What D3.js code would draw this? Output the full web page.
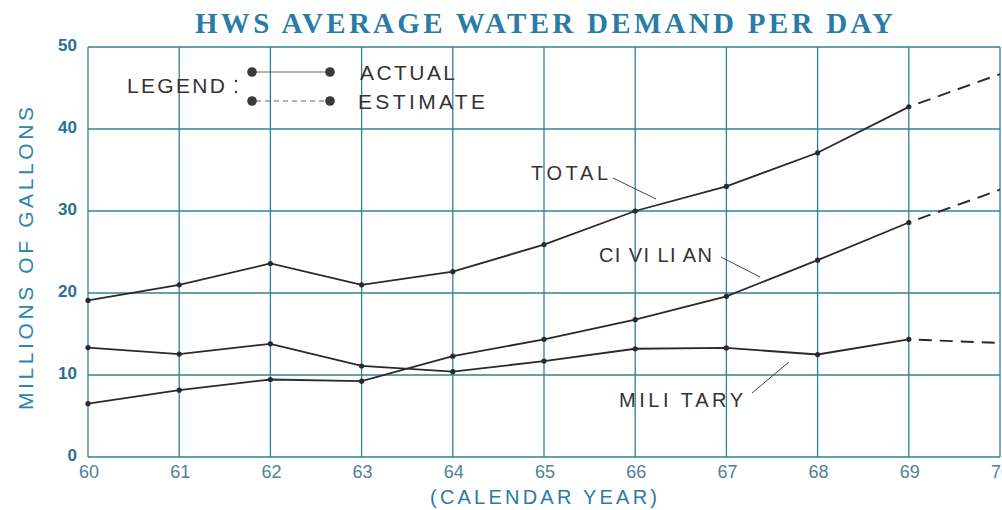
<html>
  <head>
    <meta charset="utf-8">
    <script src="https://d3js.org/d3.v7.min.js"></script>
    <style type="text/css">
      body { margin: 0; background: #fff; }
      svg { display: block; }
      .grid line { stroke: #2f8096; stroke-width: 1.3; }
      .ytick { font-family: "Liberation Sans", Arial, sans-serif; font-weight: bold; font-size: 17px; fill: #2a6f98; }
      .xtick { font-family: "Liberation Sans", Arial, sans-serif; font-size: 18px; fill: #4f8198; }
      .lbl { font-family: "Liberation Sans", Arial, sans-serif; fill: #333; }
    </style>
  </head>
  <body>
    <svg width="1002" height="510"></svg>
    <script>
      // calendar years (19xx) and demand in millions of gallons per day
      var years = [60, 61, 62, 63, 64, 65, 66, 67, 68, 69];
      var total = [19.1, 21.0, 23.6, 21.0, 22.6, 25.9, 30.0, 33.0, 37.1, 42.7];
      var civilian = [6.5, 8.15, 9.45, 9.25, 12.3, 14.35, 16.75, 19.6, 24.0, 28.6];
      var military = [13.35, 12.55, 13.8, 11.1, 10.4, 11.7, 13.2, 13.3, 12.5, 14.35];

      // estimates (69 -> 70)
      var estYears = [69, 70];
      var totalEst = [42.7, 46.7];
      var civilianEst = [28.6, 32.6];
      var militaryEst = [14.35, 13.9];

      var xTicks = [60, 61, 62, 63, 64, 65, 66, 67, 68, 69, 70];
      var yTicks = [0, 10, 20, 30, 40, 50];

      var svg = d3.select("svg");
      var x = d3.scaleLinear().domain([60, 70]).range([88, 1000]);
      var y = d3.scaleLinear().domain([0, 50]).range([457, 47]);

      // grid
      var grid = svg.append("g").attr("class", "grid");
      grid.selectAll(".v").data(xTicks).enter().append("line")
        .attr("x1", function(d) { return x(d); }).attr("x2", function(d) { return x(d); })
        .attr("y1", y(0)).attr("y2", y(50));
      grid.selectAll(".h").data(yTicks).enter().append("line")
        .attr("y1", function(d) { return y(d); }).attr("y2", function(d) { return y(d); })
        .attr("x1", x(60)).attr("x2", x(70));

      // tick labels
      svg.selectAll(".ytick").data(yTicks).enter().append("text")
        .attr("class", "ytick")
        .attr("x", 77).attr("y", function(d) { return y(d) + 4; })
        .attr("text-anchor", "end")
        .text(function(d) { return d; });
      svg.selectAll(".xtick").data(xTicks).enter().append("text")
        .attr("class", "xtick")
        .attr("x", function(d) { return x(d) + 1; }).attr("y", 478)
        .attr("text-anchor", "middle")
        .text(function(d) { return d; });

      // titles
      svg.append("text")
        .attr("x", 195).attr("y", 33)
        .attr("textLength", 698).attr("lengthAdjust", "spacing")
        .style("font-family", "'Liberation Serif', serif").style("font-weight", "bold")
        .style("font-size", "29px").style("fill", "#2a7ba6")
        .text("HWS  AVERAGE  WATER  DEMAND  PER  DAY");
      svg.append("text")
        .attr("x", 430).attr("y", 504)
        .attr("textLength", 227).attr("lengthAdjust", "spacing")
        .style("font-family", "'Liberation Sans', sans-serif")
        .style("font-size", "20px").style("fill", "#2b7aa5")
        .text("(CALENDAR  YEAR)");
      svg.append("text")
        .attr("transform", "translate(33,410) rotate(-90)")
        .attr("textLength", 303).attr("lengthAdjust", "spacing")
        .style("font-family", "'Liberation Sans', sans-serif")
        .style("font-size", "21px").style("fill", "#2f86ad")
        .text("MILLIONS  OF  GALLONS");

      // series
      var line = d3.line()
        .x(function(d) { return x(d[0]); })
        .y(function(d) { return y(d[1]); });

      [total, civilian, military].forEach(function(vals) {
        var pts = d3.zip(years, vals);
        svg.append("path").attr("d", line(pts))
          .attr("fill", "none").attr("stroke", "#2a2a2a").attr("stroke-width", 1.8);
        svg.selectAll(null).data(pts).enter().append("circle")
          .attr("cx", function(d) { return x(d[0]); })
          .attr("cy", function(d) { return y(d[1]); })
          .attr("r", 2.6).attr("fill", "#2a2a2a");
      });
      [totalEst, civilianEst, militaryEst].forEach(function(vals) {
        var pts = d3.zip(estYears, vals);
        svg.append("path").attr("d", line(pts))
          .attr("fill", "none").attr("stroke", "#2a2a2a").attr("stroke-width", 1.9)
          .attr("stroke-dasharray", "0,10,13,8,13,8,13,8,13,8,13,8");
      });

      // series labels with leader lines
      var labels = [
        { text: "TOTAL", x: 531, y: 180, w: 77, lx1: 613, ly1: 178, lx2: 656, ly2: 199 },
        { text: "CI VI LI AN", x: 599, y: 262, w: 113, lx1: 721, ly1: 257, lx2: 760, ly2: 277 },
        { text: "MILI TARY", x: 619, y: 407, w: 124, lx1: 752, ly1: 393, lx2: 789, ly2: 362 }
      ];
      labels.forEach(function(d) {
        svg.append("text").attr("class", "lbl")
          .attr("x", d.x).attr("y", d.y)
          .attr("textLength", d.w).attr("lengthAdjust", "spacing")
          .style("font-size", "20px")
          .text(d.text);
        svg.append("line")
          .attr("x1", d.lx1).attr("y1", d.ly1).attr("x2", d.lx2).attr("y2", d.ly2)
          .attr("stroke", "#444").attr("stroke-width", 1);
      });

      // legend
      var lg = svg.append("g");
      lg.append("text").attr("class", "lbl")
        .attr("x", 127).attr("y", 93)
        .attr("textLength", 98).attr("lengthAdjust", "spacing")
        .style("font-size", "21px").text("LEGEND");
      lg.append("circle").attr("cx", 236).attr("cy", 81).attr("r", 1.2).attr("fill", "#333");
      lg.append("circle").attr("cx", 236).attr("cy", 92).attr("r", 1.2).attr("fill", "#333");
      var legendRows = [
        { name: "ACTUAL", cy: 72, dash: null, w: 95 },
        { name: "ESTIMATE", cy: 101, dash: "5,4", w: 127 }
      ];
      legendRows.forEach(function(r) {
        lg.append("line").attr("x1", 256).attr("x2", 326)
          .attr("y1", r.cy).attr("y2", r.cy)
          .attr("stroke", "#555").attr("stroke-width", 0.9)
          .attr("stroke-dasharray", r.dash);
        lg.append("circle").attr("cx", 252).attr("cy", r.cy).attr("r", 4.8).attr("fill", "#3a3a3a");
        lg.append("circle").attr("cx", 330).attr("cy", r.cy).attr("r", 4.8).attr("fill", "#3a3a3a");
        lg.append("text").attr("class", "lbl")
          .attr("x", r.name === "ACTUAL" ? 360 : 358).attr("y", r.cy + 7.5)
          .attr("textLength", r.w).attr("lengthAdjust", "spacing")
          .style("font-size", "21px").text(r.name);
      });
    </script>
  </body>
</html>
